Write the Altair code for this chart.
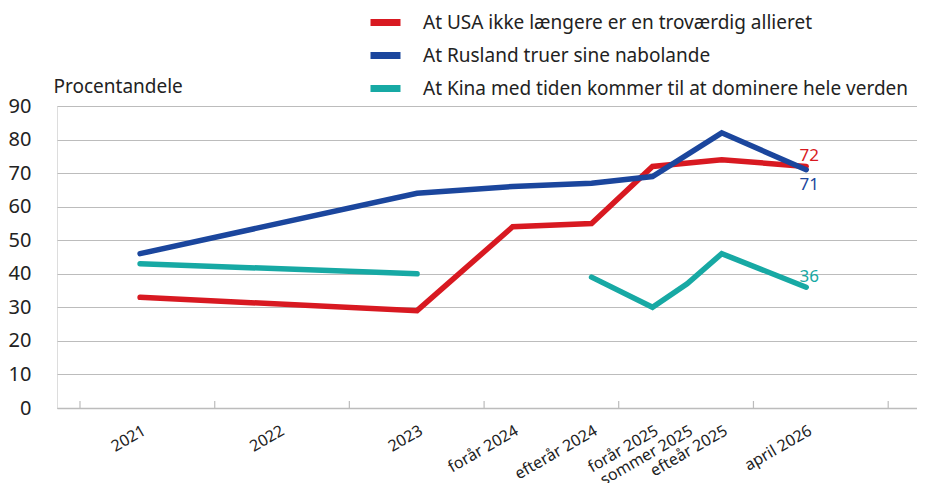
import altair as alt
import pandas as pd

# ---------------- data ----------------
x_labels = ["2021", "2022", "2023", "forår 2024", "efterår 2024",
            "forår 2025", "sommer 2025", "efteår 2025", "april 2026"]
x_pos = [2021.0, 2022.0, 2023.0, 2023.69, 2024.26, 2024.70, 2024.95, 2025.20, 2025.81]

series_names = [
    "At USA ikke længere er en troværdig allieret",
    "At Rusland truer sine nabolande",
    "At Kina med tiden kommer til at dominere hele verden",
]
series_colors = ["#d81921", "#1b469d", "#17a9a4"]

usa = [33, None, 29, 54, 55, 72, None, 74, 72]
rusland = [46, None, 64, 66, 67, 69, None, 82, 71]
kina = [43, None, 40, None, 39, 30, 37, 46, 36]

usa_segment = [1, 1, 1, 1, 1, 1, 1, 1, 1]
rusland_segment = [1, 1, 1, 1, 1, 1, 1, 1, 1]
kina_segment = [1, 1, 1, 1, 2, 2, 2, 2, 2]

y_ticks = [0, 10, 20, 30, 40, 50, 60, 70, 80, 90]
tick_values = [2020.566, 2021.539, 2022.511, 2023.484, 2024.456, 2025.429, 2026.402]

end_labels_above = [("72", series_names[0], 72), ("36", series_names[2], 36)]
end_labels_below = [("71", series_names[1], 71)]

# ---------------- tables ----------------
rows = []
for name, vals, segs in zip(series_names, [usa, rusland, kina],
                            [usa_segment, rusland_segment, kina_segment]):
    for lab, xp, v, s in zip(x_labels, x_pos, vals, segs):
        if v is not None:
            rows.append({"series": name, "label": lab, "x": xp, "value": v,
                         "segment": f"{name}-{s}"})
df = pd.DataFrame(rows)
df_ticks = pd.DataFrame({"x": tick_values})
df_xlab = pd.DataFrame({"label": x_labels, "x": x_pos})
last_x = x_pos[-1]
df_above = pd.DataFrame([{"text": t, "series": s, "value": v, "x": last_x} for t, s, v in end_labels_above])
df_below = pd.DataFrame([{"text": t, "series": s, "value": v, "x": last_x} for t, s, v in end_labels_below])

W, H = 860, 302
FONT = "Noto Sans"
TXT = "#222222"
GRID = "#bcbcbc"

xscale = alt.Scale(domain=[2020.40, 2026.61], nice=False, zero=False)
yscale = alt.Scale(domain=[0, 90], nice=False)
cscale = alt.Scale(domain=series_names, range=series_colors)

xaxis = alt.Axis(ticks=False, labels=False, grid=False, title=None,
                 domainColor=GRID, domainWidth=1.5)
yaxis = alt.Axis(values=y_ticks, ticks=False, domain=False, labelOverlap=False,
                 gridColor=GRID, gridWidth=1.2, labelFontSize=20,
                 labelColor=TXT, labelFont=FONT, labelPadding=26,
                 title="Procentandele", titleAngle=0, titleAlign="left",
                 titleBaseline="alphabetic", titleX=-4, titleY=-14,
                 titleFontSize=19, titleFontWeight="normal",
                 titleColor=TXT, titleFont=FONT)


def X():
    return alt.X("x:Q", scale=xscale, axis=xaxis)


def Y():
    return alt.Y("value:Q", scale=yscale, axis=yaxis)


lines = alt.Chart(df).mark_line(strokeWidth=5.5, strokeCap="round").encode(
    x=X(),
    y=Y(),
    color=alt.Color("series:N", scale=cscale, sort=series_names,
                    legend=alt.Legend(orient="none", legendX=310, legendY=-102,
                                      direction="vertical", title=None,
                                      symbolType="stroke", symbolSize=900,
                                      symbolStrokeWidth=7, labelFontSize=19,
                                      labelFont=FONT, labelColor=TXT,
                                      labelOffset=19, rowPadding=-1, padding=0,
                                      labelLimit=0)),
    detail="segment:N",
)

ticks = alt.Chart(df_ticks).mark_rule(color=GRID, strokeWidth=1.2).encode(
    x=X(),
    y=alt.value(H - 7),
    y2=alt.value(H),
)

xlabels = alt.Chart(df_xlab).mark_text(
    angle=330, align="right", baseline="middle", fontSize=16, font=FONT,
    color=TXT, dx=5
).encode(
    x=X(),
    y=alt.value(H + 24),
    text="label:N",
)

above = alt.Chart(df_above).mark_text(fontSize=17, font=FONT, dy=-10, dx=3).encode(
    x=X(),
    y=Y(),
    text="text:N",
    color=alt.Color("series:N", scale=cscale, legend=None),
)
below = alt.Chart(df_below).mark_text(fontSize=17, font=FONT, dy=15, dx=3).encode(
    x=X(),
    y=Y(),
    text="text:N",
    color=alt.Color("series:N", scale=cscale, legend=None),
)

chart = alt.layer(ticks, lines, above, below, xlabels).properties(
    width=W, height=H,
    autosize=alt.AutoSizeParams(type="none"),
    padding={"left": 49, "top": 98, "right": 0, "bottom": 75},
).configure_view(stroke=None).configure(font=FONT)

chart.save("out.html", embed_options={"renderer": "svg", "actions": False})
